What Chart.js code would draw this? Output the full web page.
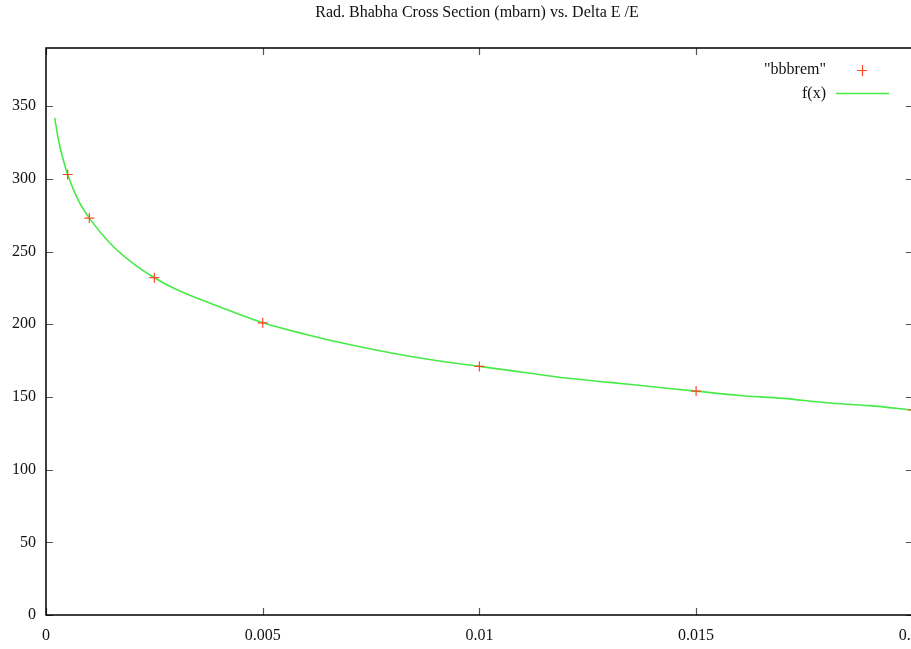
<!DOCTYPE html>
<html>
<head>
<meta charset="utf-8">
<script src="https://cdn.jsdelivr.net/npm/chart.js@4/dist/chart.umd.min.js"></script>
<style>
  html, body { margin: 0; padding: 0; overflow: hidden; background: #fff; }
  #wrap { width: 919px; height: 649px; }
</style>
</head>
<body>
<div id="wrap"><canvas id="myChart" width="919" height="649"></canvas></div>
<script>
const titleText = 'Rad. Bhabha Cross Section (mbarn) vs. Delta E /E'

// "bbbrem" data points
const dataX = [0.0005, 0.001, 0.0025, 0.005, 0.01, 0.015, 0.02]
const dataY = [303, 273, 232, 201, 171, 154, 141]

// f(x) curve
const curveX = [0.0002, 0.0003, 0.0004, 0.0005, 0.00075, 0.001, 0.0015, 0.002, 0.0025, 0.003, 0.004, 0.005,
  0.006, 0.007, 0.008, 0.009, 0.01, 0.011, 0.012, 0.013, 0.014, 0.015, 0.016, 0.017, 0.018, 0.019, 0.02]
const curveY = [342, 325, 313, 303, 285, 273, 255, 242, 232, 224, 212, 201,
  193, 186, 180, 175, 171, 167, 163, 160, 157, 154, 151, 149, 146, 144, 141]

const xTicks = [0, 0.005, 0.01, 0.015, 0.02]
const xTickLabels = ['0', '0.005', '0.01', '0.015', '0.02']
const yTicks = [0, 50, 100, 150, 200, 250, 300, 350]

const serif = '"Liberation Serif", "DejaVu Serif", serif'

function toPoints(xs, ys) {
  return xs.map((x, i) => ({ x: x, y: ys[i] }))
}

// border, inward ticks, title and legend like gnuplot
const gnuplotFrame = {
  id: 'gnuplotFrame',
  afterDraw(chart) {
    const ctx = chart.ctx
    const a = chart.chartArea
    const xs = chart.scales.x
    const ys = chart.scales.y
    ctx.save()
    ctx.strokeStyle = '#555'
    ctx.lineWidth = 1.2
    ctx.beginPath()
    xTicks.forEach(v => {
      const px = Math.round(xs.getPixelForValue(v)) + 0.5
      ctx.moveTo(px, a.bottom); ctx.lineTo(px, a.bottom - 7)
      ctx.moveTo(px, a.top); ctx.lineTo(px, a.top + 7)
    })
    yTicks.forEach(v => {
      const py = Math.round(ys.getPixelForValue(v)) + 0.5
      ctx.moveTo(a.left, py); ctx.lineTo(a.left + 7, py)
      ctx.moveTo(a.right, py); ctx.lineTo(a.right - 7, py)
    })
    ctx.stroke()

    ctx.strokeStyle = '#000'
    ctx.lineWidth = 1.5
    ctx.strokeRect(a.left, a.top, a.right - a.left, a.bottom - a.top)

    ctx.fillStyle = '#111'
    ctx.font = '16px ' + serif
    ctx.textAlign = 'center'
    ctx.textBaseline = 'middle'
    ctx.fillText(titleText, 477, 13)

    // legend
    ctx.font = '16px ' + serif
    ctx.textAlign = 'right'
    ctx.fillText('"bbbrem"', 826, 70)
    ctx.fillText('f(x)', 826, 94)
    ctx.strokeStyle = 'rgb(255,70,40)'
    ctx.lineWidth = 1.2
    ctx.beginPath()
    ctx.moveTo(857, 70.5); ctx.lineTo(867, 70.5)
    ctx.moveTo(862.5, 65); ctx.lineTo(862.5, 76)
    ctx.stroke()
    ctx.strokeStyle = 'rgb(70,235,70)'
    ctx.lineWidth = 1.6
    ctx.beginPath()
    ctx.moveTo(836, 93.5); ctx.lineTo(889, 93.5)
    ctx.stroke()
    ctx.restore()
  }
}

const config = {
  type: 'scatter',
  data: {
    datasets: [
      {
        label: 'f(x)',
        data: toPoints(curveX, curveY),
        showLine: true,
        borderColor: 'rgb(70,235,70)',
        borderWidth: 1.6,
        pointRadius: 0,
        cubicInterpolationMode: 'monotone',
        fill: false,
        order: 2,
      },
      {
        label: '"bbbrem"',
        data: toPoints(dataX, dataY),
        pointStyle: 'cross',
        pointRadius: 5,
        pointBorderWidth: 1.2,
        borderColor: 'rgb(255,70,40)',
        backgroundColor: 'rgb(255,70,40)',
        showLine: false,
        order: 1,
      },
    ],
  },
  options: {
    responsive: false,
    animation: false,
    layout: { padding: { top: 48, right: 3, left: 0, bottom: 0 } },
    plugins: {
      legend: { display: false },
      tooltip: { enabled: false },
    },
    scales: {
      x: {
        type: 'linear',
        min: 0,
        max: 0.02,
        grid: { display: false, drawTicks: false },
        border: { display: false },
        afterBuildTicks: function (s) {
          s.ticks = xTicks.map(v => ({ value: v }))
        },
        afterFit: function (s) {
          s.height = 34
          s.paddingLeft = 0
          s.paddingRight = 0
        },
        ticks: {
          padding: 11,
          maxRotation: 0,
          autoSkip: false,
          color: '#111',
          font: { family: serif, size: 16 },
          callback: function (v) {
            const i = xTicks.findIndex(t => Math.abs(t - v) < 1e-9)
            return i >= 0 ? xTickLabels[i] : ''
          },
        },
      },
      y: {
        min: 0,
        max: 390,
        grid: { display: false, drawTicks: false },
        border: { display: false },
        afterBuildTicks: function (s) {
          s.ticks = yTicks.map(v => ({ value: v }))
        },
        afterFit: function (s) {
          s.width = 46
          s.paddingTop = 0
          s.paddingBottom = 0
        },
        ticks: {
          padding: 10,
          autoSkip: false,
          color: '#111',
          font: { family: serif, size: 16 },
        },
      },
    },
  },
  plugins: [gnuplotFrame],
}

const myChart = new Chart(document.getElementById('myChart'), config)
</script>
</body>
</html>
